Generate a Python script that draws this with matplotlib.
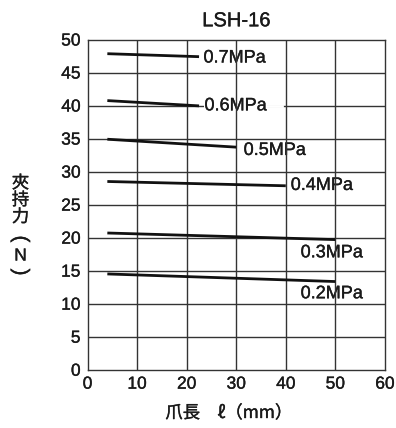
import matplotlib
matplotlib.use("Agg")
import matplotlib.pyplot as plt
import matplotlib.patheffects as pe

plt.rcParams['font.family'] = ['Liberation Sans', 'DejaVu Sans']

# clamping force lines, one per pressure (x = claw length mm, y = force N)
pressures = ["0.7MPa", "0.6MPa", "0.5MPa", "0.4MPa", "0.3MPa", "0.2MPa"]
x_start = [4, 4, 4, 4, 4, 4]
x_end = [22.5, 22.5, 30, 40, 50, 50]
y_start = [47.85, 40.75, 34.9, 28.5, 20.7, 14.5]
y_end = [47.4, 39.95, 33.7, 27.85, 19.7, 13.35]
# label anchors (left edge, vertical centre)
label_x = [23.4, 23.6, 31.5, 41.0, 43.0, 43.0]
label_y = [47.2, 39.95, 33.2, 27.9, 17.7, 11.5]

txt_col = "#1a1a1a"
heavy = [pe.withStroke(linewidth=0.25, foreground=txt_col)]

fig = plt.figure(figsize=(3.96, 4.28), dpi=100)
ax = fig.add_axes([0.221, 0.1362, 0.751, 0.7715])

ax.set_xlim(0, 60)
ax.set_ylim(0, 50)
ax.set_xticks(range(0, 61, 10))
ax.set_yticks(range(0, 51, 5))

# horizontal grid under labels, vertical grid on top
for yv in range(5, 50, 5):
    ax.axhline(yv, color="#333333", lw=1.0, zorder=1)
for xv in range(10, 60, 10):
    ax.axvline(xv, color="#333333", lw=1.0, zorder=4)

for i in range(len(pressures)):
    ax.plot([x_start[i], x_end[i]], [y_start[i], y_end[i]],
            color="#111111", lw=2.0, zorder=5, solid_capstyle="butt")
    ax.text(label_x[i], label_y[i], pressures[i], fontsize=13, color=txt_col,
            ha="left", va="center", zorder=3, path_effects=heavy,
            bbox=dict(facecolor="white", edgecolor="none", pad=0.5))

# white gap after the 0.6MPa label
ax.plot([35.5, 39.2], [40, 40], color="white", lw=2.0, zorder=2)

for s in ax.spines.values():
    s.set_color("#333333")
    s.set_linewidth(1.0)
ax.tick_params(length=0, pad=5, labelsize=12.5, colors=txt_col)
for lbl in ax.get_xticklabels() + ax.get_yticklabels():
    lbl.set_path_effects(heavy)

ax.set_title("LSH-16", fontsize=14.5, color=txt_col, pad=9.5, path_effects=heavy)

cjk = ['Noto Sans CJK JP', 'DejaVu Sans']
fig.text(229 / 396, 1 - 413 / 428, "爪長　ℓ（mm）", fontsize=12.5, family=cjk,
         ha="center", va="center", color=txt_col, path_effects=heavy)

# vertical y label
fig.text(20.5 / 396, 1 - 200 / 428, "夾\n持\n力", fontsize=12.5, family=cjk,
         linespacing=0.92, ha="center", va="center", color=txt_col,
         path_effects=heavy)
ylab_chars = ["(", "N", ")"]
ylab_pos = [239, 256, 272]
for ch, yp in zip(ylab_chars, ylab_pos):
    rot = -90 if ch in "()" else 0
    fig.text(20.5 / 396, 1 - yp / 428, ch, fontsize=15 if ch in "()" else 12.5,
             rotation=rot, rotation_mode="anchor", path_effects=heavy,
             ha="center", va="center", color=txt_col)

fig.savefig("out.png", dpi=100)
